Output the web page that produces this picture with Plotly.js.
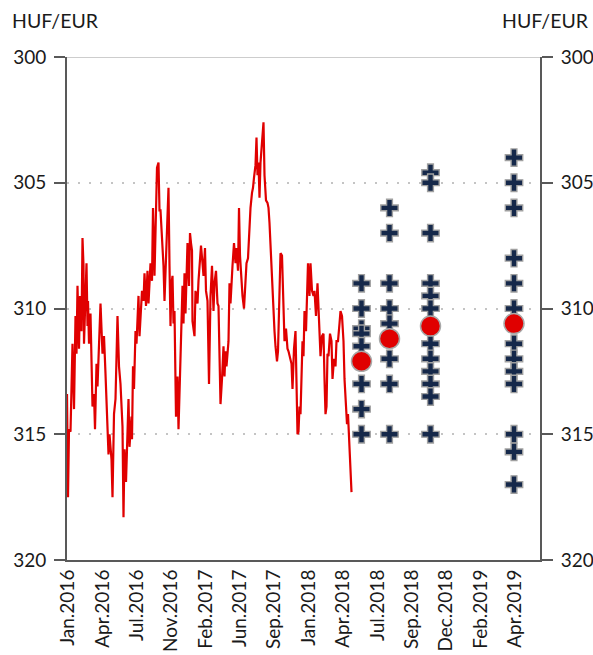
<!DOCTYPE html>
<html>
<head>
<meta charset="utf-8">
<script src="https://cdn.plot.ly/plotly-3.0.1.min.js"></script>
<style>html,body{margin:0;padding:0;background:#fff;}#chart{width:593px;height:655px;}</style>
</head>
<body>
<div id="chart"></div>
<script>
// Historical HUF/EUR (x = trading-day index from Jan.2016, y = rate)
const histDay = [0,1,2,4,7,11,14,17,19,21,24,26,29,31,33,34,36,39,41,42,44,47,51,54,56,59,61,64,67,71,74,77,81,83,85,89,91,94,97,101,104,107,111,113,115,118,120,123,125,129,130,132,134,137,139,141,143,145,147,150,153,155,158,161,163,167,170,172,175,177,180,183,185,187,190,193,195,198,201,203,205,207,209,211,213,215,218,221,223,227,229,231,233,235,237,239,241,244,246,248,250,251,255,257,261,263,266,268,271,273,276,278,281,284,287,290,293,295,298,301,303,305,307,310,313,315,317,319,323,325,327,331,334,337,339,342,344,346,349,351,354,357,359,362,365,367,370,372,374,377,379,381,383,385,387,390,393,395,398,401,403,405,407,409,411,413,415,417,420,422,425,427,430,433,435,438,441,443,446,449,451,454,457,459,461,463,465,467,469,471,473,475,478,480,482,485,487,490,493,495,498,501,503,505,507,510,513,515,517,519,521,523,526,529,531,534,537,539,542,545,547,550,553,555,558,560,562,565,567,569];
const histRate = [313.4,315.4,317.5,314.8,314.9,311.4,314.0,310.3,311.8,309.1,311.6,309.5,310.9,307.2,308.3,311.4,309.7,308.2,310.7,309.7,311.4,310.2,313.9,313.4,314.8,312.2,313.1,311.0,309.8,311.8,311.1,312.6,314.6,315.8,315.0,316.0,317.5,314.2,313.6,310.3,312.3,313.0,314.7,318.3,315.6,316.9,315.6,313.6,315.5,314.3,315.2,312.3,313.2,310.9,311.4,310.3,309.5,311.1,310.3,309.3,309.7,308.6,309.9,308.5,309.8,308.2,308.9,306.0,308.7,307.0,304.4,304.2,306.1,306.1,307.0,308.3,309.7,307.9,306.4,305.2,308.3,310.7,309.0,308.7,310.6,310.1,314.3,312.7,314.8,312.3,310.6,309.1,310.6,308.6,310.2,308.1,307.4,309.1,307.0,307.4,307.7,310.5,311.1,309.3,309.8,308.9,308.1,307.5,308.2,308.7,307.6,309.3,309.7,313.0,309.5,308.3,310.1,309.0,308.5,309.8,309.9,311.7,313.8,312.8,311.5,312.7,311.7,312.3,311.3,309.0,309.8,308.3,307.4,308.2,307.6,308.5,306.0,307.9,309.1,309.5,310.0,308.9,308.2,308.0,306.7,306.0,305.4,305.2,304.8,304.3,303.2,304.7,304.2,305.6,304.2,303.4,302.6,304.7,305.7,305.8,306.0,306.6,307.6,308.2,309.3,310.0,310.9,311.5,312.1,311.7,308.9,307.8,307.9,310.4,311.3,310.8,311.6,311.7,312.0,312.2,313.2,311.6,310.9,314.0,315.0,314.9,313.9,314.2,312.8,311.3,311.9,310.1,310.9,309.3,308.2,309.5,308.2,309.3,309.5,309.3,310.3,309.0,310.2,310.9,311.9,311.1,311.0,312.8,314.2,313.9,311.8,311.9,311.0,311.3,312.8,312.0,312.3,311.3,311.3,310.6,310.1,310.3,311.3,312.8,313.9,314.6,314.2,315.5,316.0,317.3];

// Analyst forecasts: horizon positions (same day index) and individual forecasts
const fcDay = [589, 645, 727, 894];
const fc1 = [309.0,310.0,310.8,311.0,311.5,312.1,313.0,314.0,315.0];
const fc2 = [306.0,307.0,309.0,310.0,310.6,311.2,312.0,313.0,315.0];
const fc3 = [304.6,305.0,307.0,309.0,309.5,310.0,311.4,312.0,312.5,313.0,313.5,315.0];
const fc4 = [304.0,305.0,306.0,308.0,309.0,310.0,311.4,312.0,312.5,313.0,315.0,315.7,317.0];
const fcAvg = [312.1, 311.2, 310.7, 310.6];

const tickLabels = ['Jan.2016','Apr.2016','Jul.2016','Nov.2016','Feb.2017','Jun.2017','Sep.2017','Jan.2018','Apr.2018','Jul.2018','Sep.2018','Dec.2018','Feb.2019','Apr.2019'];
const yTicks = [300, 305, 310, 315, 320];

const fcCols = [fc1, fc2, fc3, fc4];
const fx = [], fy = [];
fcCols.forEach((col, i) => col.forEach(v => { fx.push(fcDay[i]); fy.push(v); }));

const tickStep = 68.77;
const tickVals = tickLabels.map((_, i) => 2 + i * tickStep);

const FONT = 'Lato, "Open Sans", sans-serif';

const traces = [
  {x: histDay, y: histRate, type: 'scatter', mode: 'lines',
   line: {color: '#E00000', width: 2.2}, hoverinfo: 'skip'},
  {x: fx, y: fy, type: 'scatter', mode: 'markers',
   marker: {symbol: 'cross', size: 14.5, color: '#15284A', line: {color: '#A0A0A0', width: 1.4}}},
  {x: fcDay, y: fcAvg, type: 'scatter', mode: 'markers',
   marker: {symbol: 'circle', size: 20, color: '#E00000', line: {color: '#A8A8A8', width: 1.5}}},
  {x: [0], y: [310], yaxis: 'y2', type: 'scatter', mode: 'markers',
   marker: {opacity: 0}, hoverinfo: 'skip'}
];

const yCommon = {
  range: [320, 300], tickvals: yTicks, ticktext: yTicks.map(String),
  ticks: 'outside', ticklen: 11, tickwidth: 2, tickcolor: '#595959',
  showline: true, linecolor: '#595959', linewidth: 2, zeroline: false,
  tickfont: {family: FONT, size: 19, color: '#1a1a1a'}, fixedrange: true
};

const layout = {
  width: 593, height: 655,
  margin: {l: 67, r: 53, t: 57, b: 95},
  paper_bgcolor: '#fff', plot_bgcolor: '#fff',
  showlegend: false,
  xaxis: {
    range: [0, 946], tickvals: tickVals, ticktext: tickLabels,
    tickangle: -90, ticks: '', showgrid: false, zeroline: false,
    showline: true, linecolor: '#595959', linewidth: 2,
    tickfont: {family: FONT, size: 19, color: '#1a1a1a'}
  },
  yaxis: Object.assign({}, yCommon, {
    showgrid: true, gridcolor: '#C4C4C4', griddash: '2px,9px', gridwidth: 2,
    ticklabelstandoff: 4
  }),
  yaxis2: Object.assign({}, yCommon, {
    overlaying: 'y', side: 'right', showgrid: false, ticklabelstandoff: 4
  }),
  shapes: [
    {type: 'line', xref: 'paper', yref: 'y', x0: 0, x1: 1, y0: 300, y1: 300,
     line: {color: '#BDBDBD', width: 1.5}}
  ],
  annotations: [
    {text: 'HUF/EUR', xref: 'paper', yref: 'paper', x: -0.12, y: 1.073,
     xanchor: 'left', yanchor: 'middle', showarrow: false,
     font: {family: FONT, size: 19.5, color: '#1a1a1a'}},
    {text: 'HUF/EUR', xref: 'paper', yref: 'paper', x: 1.108, y: 1.073,
     xanchor: 'right', yanchor: 'middle', showarrow: false,
     font: {family: FONT, size: 19.5, color: '#1a1a1a'}}
  ]
};

Plotly.newPlot('chart', traces, layout, {displayModeBar: false, staticPlot: true});
</script>
</body>
</html>
